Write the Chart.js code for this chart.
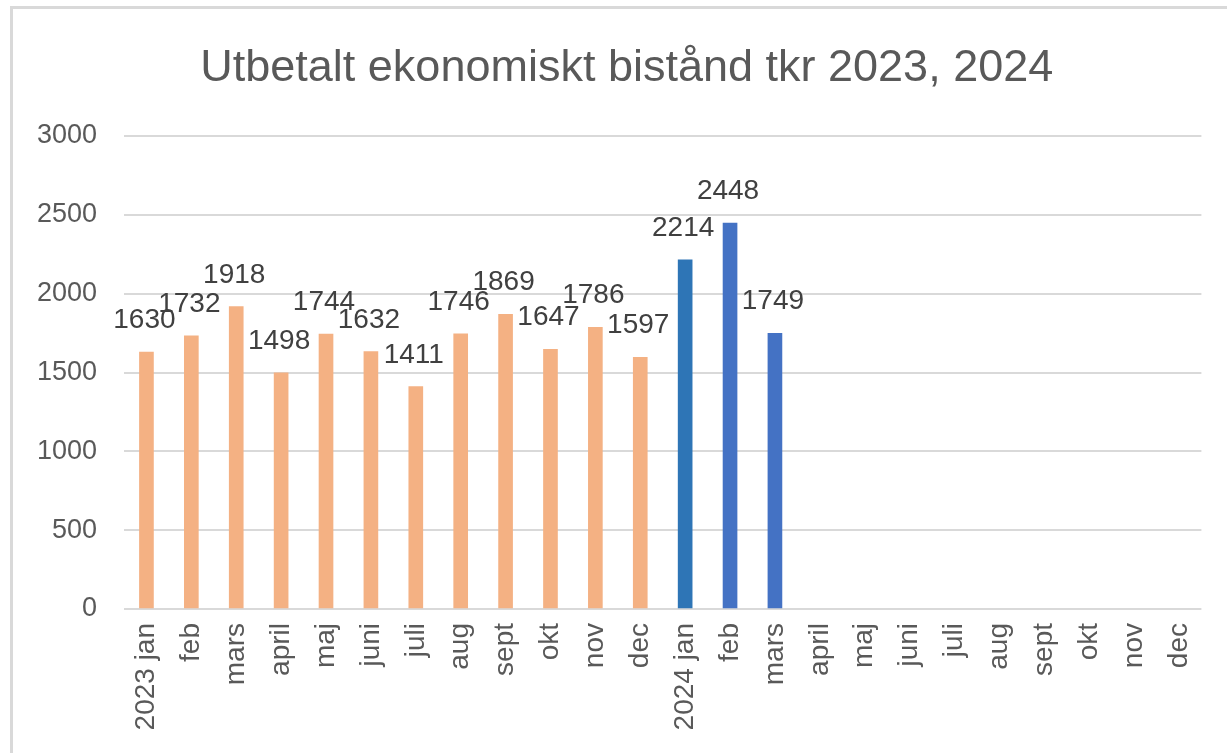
<!DOCTYPE html>
<html>
<head>
<meta charset="utf-8">
<script src="https://cdn.jsdelivr.net/npm/chart.js@4/dist/chart.umd.min.js"></script>
<style>
  body { margin: 0; background: #fff; }
  #wrap { position: relative; width: 1227px; height: 753px; }
  #frame { position: absolute; left: 10px; top: 6px; right: 0; bottom: 0;
           border-top: 3px solid #d9d9d9; border-left: 3px solid #d9d9d9; pointer-events: none; }
  canvas { position: absolute; left: 0; top: 0; }
</style>
</head>
<body>
<div id="wrap">
  <canvas id="graph" width="1227" height="753"></canvas>
  <div id="frame"></div>
</div>
<script>
const labels = [
    '2023 jan', 'feb', 'mars', 'april', 'maj', 'juni', 'juli', 'aug', 'sept', 'okt', 'nov', 'dec',
    '2024 jan', 'feb', 'mars', 'april', 'maj', 'juni', 'juli', 'aug', 'sept', 'okt', 'nov', 'dec'
];
const values2023 = [1630, 1732, 1918, 1498, 1744, 1632, 1411, 1746, 1869, 1647, 1786, 1597];
const values2024 = [2214, 2448, 1749, null, null, null, null, null, null, null, null, null];
const yTicks = [0, 500, 1000, 1500, 2000, 2500, 3000];

const colors2023 = '#f4b183';
const colors2024 = ['#2e75b6', '#4472c4', '#4472c4'];

const values = values2023.concat(values2024);
const barColors = values.map((v, i) => i < 12 ? colors2023 : (colors2024[i - 12] || '#4472c4'));

const FONT = "'Liberation Sans', Arial, sans-serif";

// simple value labels above each bar
const valueLabels = {
    id: 'valueLabels',
    afterDatasetsDraw(chart){
        const ctx = chart.ctx;
        const meta = chart.getDatasetMeta(0);
        ctx.save();
        ctx.font = `28px ${FONT}`;
        ctx.fillStyle = '#404040';
        ctx.textAlign = 'center';
        ctx.textBaseline = 'alphabetic';
        meta.data.forEach((bar, i) => {
            const v = values[i];
            if (v == null) return;
            ctx.fillText(String(v), bar.x - 2, bar.y - 24);
        });
        ctx.restore();
    }
};

const ctx = document.querySelector('#graph').getContext('2d');
const chart = new Chart(ctx, {
    type: 'bar',
    data: {
        labels: labels,
        datasets: [{
            data: values,
            backgroundColor: barColors,
            barThickness: 14
        }]
    },
    options: {
        responsive: false,
        animation: false,
        layout: { padding: { left: 10, right: 21, top: 0, bottom: 0 } },
        plugins: {
            legend: { display: false },
            tooltip: { enabled: false },
            title: {
                display: true,
                // leading spaces nudge the title a bit right, like the original
                text: '\u00a0\u00a0\u00a0Utbetalt ekonomiskt bistånd tkr 2023, 2024',
                color: '#595959',
                font: { family: FONT, size: 45, weight: 'normal' },
                padding: { top: 42, bottom: 40 }
            }
        },
        scales: {
            x: {
                grid: { display: false, drawTicks: false },
                border: { display: false },
                ticks: {
                    color: '#595959',
                    font: { family: FONT, size: 28 },
                    minRotation: 90,
                    maxRotation: 90,
                    autoSkip: false,
                    padding: 14
                },
                afterFit(scale){ scale.height = 144; }
            },
            y: {
                min: 0,
                max: 3000,
                afterBuildTicks(scale){ scale.ticks = yTicks.map(v => ({ value: v })); },
                grid: { color: '#d9d9d9', lineWidth: 2, drawTicks: false },
                border: { display: false },
                ticks: {
                    color: '#595959',
                    font: { family: FONT, size: 27 },
                    padding: 27,
                    callback: v => String(v)
                },
                afterFit(scale){ scale.width = 114; }
            }
        }
    },
    plugins: [valueLabels]
});
</script>
</body>
</html>
